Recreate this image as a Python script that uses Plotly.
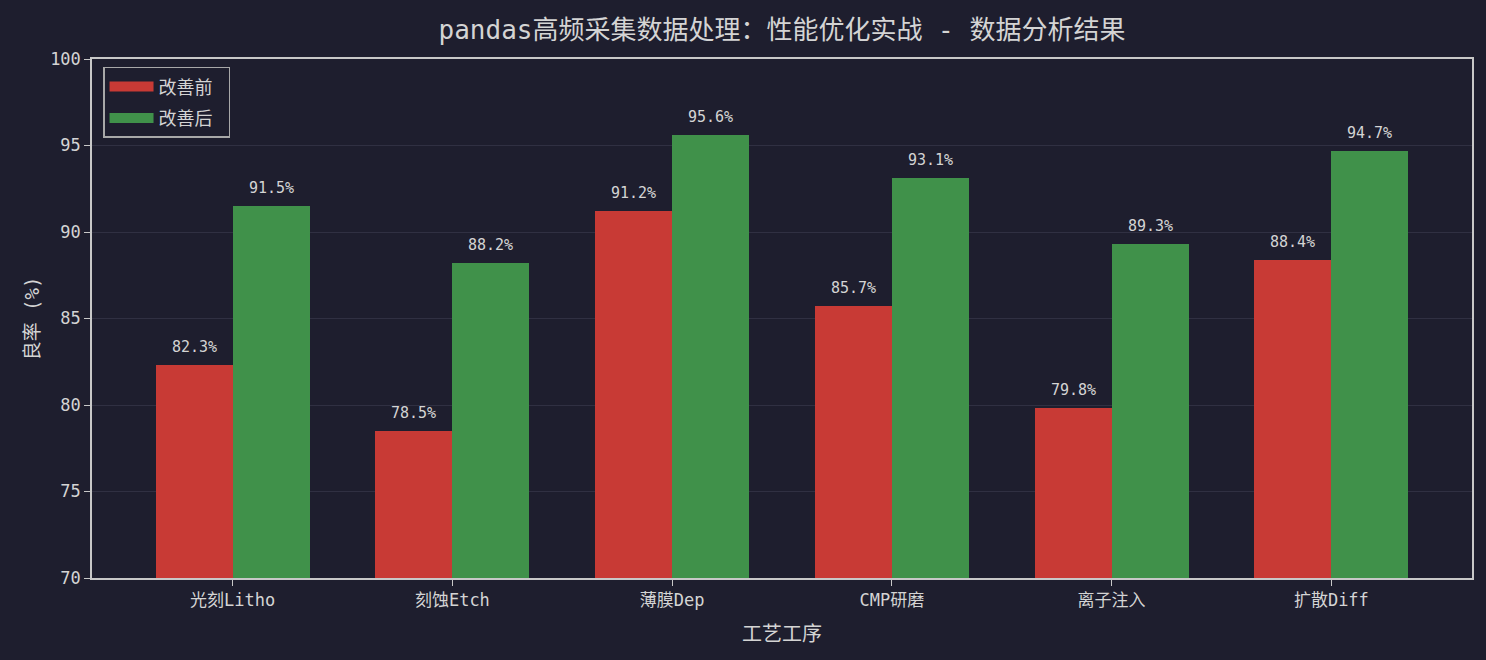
import plotly.graph_objects as go

categories = ["光刻Litho", "刻蚀Etch", "薄膜Dep", "CMP研磨", "离子注入", "扩散Diff"]
before = [82.3, 78.5, 91.2, 85.7, 79.8, 88.4]
after = [91.5, 88.2, 95.6, 93.1, 89.3, 94.7]
y_ticks = [70, 75, 80, 85, 90, 95, 100]

FONT = "DejaVu Sans Mono, Noto Sans CJK SC, monospace"
TXT = "#d4d4d4"
BG = "#1e1e2e"
AX = "#c8c8c8"
RED = "#c83a35"
GREEN = "#40914a"

x = list(range(len(categories)))
w = 0.35
xb = [i - w / 2 for i in x]
xa = [i + w / 2 for i in x]

fig = go.Figure()
fig.add_trace(go.Bar(x=xb, y=before, width=w, name="改善前", showlegend=False,
                     marker=dict(color=RED, line=dict(width=0))))
fig.add_trace(go.Bar(x=xa, y=after, width=w, name="改善后", showlegend=False,
                     marker=dict(color=GREEN, line=dict(width=0))))
# legend entries with wide rectangular swatches
fig.add_trace(go.Scatter(x=[None], y=[None], mode="lines", name="改善前 ",
                         legendgroup="a", line=dict(color=RED, width=15)))
fig.add_trace(go.Scatter(x=[None], y=[None], mode="lines", name="改善后 ",
                         legendgroup="b", line=dict(color=GREEN, width=15)))

for xs, vals in ((xb, before), (xa, after)):
    for xi, v in zip(xs, vals):
        fig.add_annotation(x=xi, y=v, text=f"{v:.1f}%", showarrow=False,
                           yanchor="bottom", yshift=7,
                           font=dict(size=15, color=TXT, family=FONT))

fig.update_layout(
    width=1486, height=660,
    paper_bgcolor=BG, plot_bgcolor=BG,
    font=dict(family=FONT, color=TXT, size=17),
    margin=dict(l=92, r=14, t=59, b=82),
    title=dict(text="pandas高频采集数据处理：性能优化实战 - 数据分析结果",
               xref="paper", x=0.5, xanchor="center", y=0.955, yanchor="middle",
               font=dict(size=26, color=TXT, family=FONT)),
    barmode="overlay", bargap=0,
    showlegend=True,
    legend=dict(x=0.008, y=0.985, xanchor="left", yanchor="top",
                bgcolor=BG, bordercolor="#a8a8a8", borderwidth=1.5,
                font=dict(size=18, color=TXT, family=FONT),
                itemwidth=44, tracegroupgap=5),
)
fig.update_xaxes(
    range=[-0.64, 5.64], tickmode="array", tickvals=x, ticktext=categories,
    showline=True, linecolor=AX, linewidth=1.5, mirror=True,
    ticks="outside", ticklen=6, tickcolor=AX, showgrid=False, zeroline=False,
    tickfont=dict(size=17, color=TXT, family=FONT),
    title=dict(text="工艺工序", font=dict(size=20, color=TXT, family=FONT), standoff=18),
)
fig.update_yaxes(
    range=[70, 100], tickmode="array", tickvals=y_ticks,
    showline=True, linecolor=AX, linewidth=1.5, mirror=True,
    ticks="outside", ticklen=6, tickcolor=AX,
    showgrid=True, gridcolor="rgba(70,70,90,0.45)", gridwidth=1, zeroline=False,
    layer="above traces",
    tickfont=dict(size=17, color=TXT, family=FONT),
    title=dict(text="良率 (%)", font=dict(size=19, color=TXT, family=FONT), standoff=5),
)

fig.write_html("out.html", config={"displayModeBar": False},
               post_script="document.body.style.margin='0';")
